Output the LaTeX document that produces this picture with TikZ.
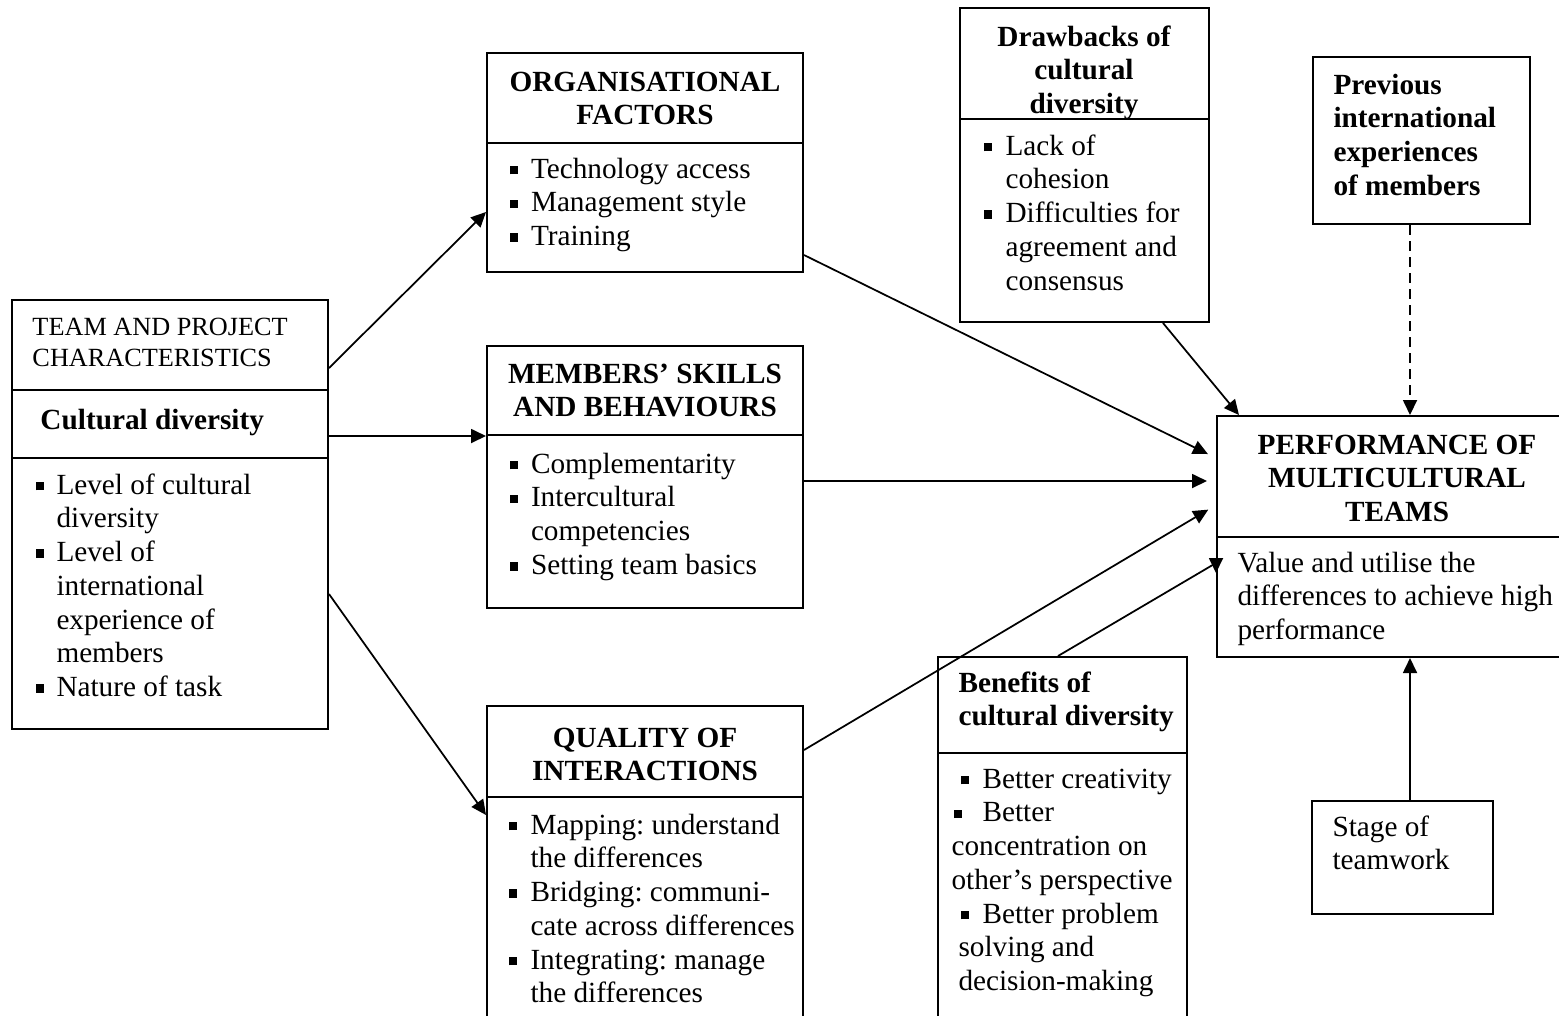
\documentclass[tikz,border=0pt]{standalone}
\usepackage{fontspec}
\setmainfont{Liberation Serif}
\usetikzlibrary{arrows.meta,fit,calc}
% small filled square used as list bullet
\newcommand{\sqbullet}{\raisebox{1.5pt}{\rule{3.4pt}{3.4pt}}}
\newcommand{\bitem}{\sqbullet &}

\begin{document}
\begin{tikzpicture}[x=0.4pt,y=-0.4pt,
  box/.style={draw, line width=0.8pt, rectangle, inner sep=0pt},
  divider/.style={line width=0.8pt},
  body/.style={inner sep=0pt, font=\fontsize{11.7}{13.5}\selectfont\frenchspacing},
  head/.style={inner sep=0pt, font=\fontsize{11.7}{13.5}\selectfont\bfseries\frenchspacing},
  small/.style={inner sep=0pt, font=\fontsize{10.5}{12.4}\selectfont},
  link/.style={line width=0.7pt, -{Triangle[length=6pt,width=5.6pt]}},
  hint/.style={link, dash pattern=on 4pt off 2.4pt},
]
\useasboundingbox (0,0) rectangle (1559,1015);
\clip (0,0) rectangle (1559,1015);

% ---------- boxes ----------
\node[box, fit={(12,300) (328,729)}] (team) {};
\node[box, fit={(487,53) (803,272)}] (org) {};
\node[box, fit={(487,346) (803,608)}] (mem) {};
\node[box, fit={(487,706) (803,1040)}] (qual) {};
\node[box, fit={(960,8) (1209,322)}] (drw) {};
\node[box, fit={(1313,57) (1530,224)}] (prev) {};
\node[box, fit={(1217,416) (1577,657)}] (perf) {};
\node[box, fit={(938,657) (1187,1040)}] (ben) {};
\node[box, fit={(1312,801) (1493,914)}] (stage) {};

% ---------- dividers ----------
\draw[divider] (team.west |- 0,390) -- (team.east |- 0,390);
\draw[divider] (team.west |- 0,458) -- (team.east |- 0,458);
\draw[divider] (org.west |- 0,143) -- (org.east |- 0,143);
\draw[divider] (mem.west |- 0,435) -- (mem.east |- 0,435);
\draw[divider] (qual.west |- 0,797) -- (qual.east |- 0,797);
\draw[divider] (drw.west |- 0,119) -- (drw.east |- 0,119);
\draw[divider] (perf.west |- 0,537) -- (perf.east |- 0,537);
\draw[divider] (ben.west |- 0,753) -- (ben.east |- 0,753);

% ---------- team and project characteristics ----------
\node[small, anchor=base west] (teamhead) at (32,335)
  {\begin{tabular}[t]{@{}l@{}}TEAM AND PROJECT\\CHARACTERISTICS\end{tabular}};
\node[head, anchor=base west] (cultdiv) at (40,429) {Cultural diversity};
\node[body, anchor=base west] (teamlist) at (35,494)
  {\begin{tabular}[t]{@{}l@{\hspace{5.0pt}}l@{}}
   \bitem Level of cultural\\
          & diversity\\
   \bitem Level of\\
          & international\\
          & experience of\\
          & members\\
   \bitem Nature of task
   \end{tabular}};

% ---------- organisational factors ----------
\node[head, anchor=base] (orghead) at (645,91)
  {\begin{tabular}[t]{@{}c@{}}ORGANISATIONAL\\FACTORS\end{tabular}};
\node[body, anchor=base west] (orglist) at (509,178)
  {\begin{tabular}[t]{@{}l@{\hspace{5.2pt}}l@{}}
   \bitem Technology access\\
   \bitem Management style\\
   \bitem Training
   \end{tabular}};

% ---------- members' skills ----------
\node[head, anchor=base] (memhead) at (645,383)
  {\begin{tabular}[t]{@{}c@{}}MEMBERS’ SKILLS\\AND BEHAVIOURS\end{tabular}};
\node[body, anchor=base west] (memlist) at (509,473)
  {\begin{tabular}[t]{@{}l@{\hspace{5.2pt}}l@{}}
   \bitem Complementarity\\
   \bitem Intercultural\\
          & competencies\\
   \bitem Setting team basics
   \end{tabular}};

% ---------- quality of interactions ----------
\node[head, anchor=base] (qualhead) at (645,747)
  {\begin{tabular}[t]{@{}c@{}}QUALITY OF\\INTERACTIONS\end{tabular}};
\node[body, anchor=base west] (quallist) at (508,834)
  {\begin{tabular}[t]{@{}l@{\hspace{5.4pt}}l@{}}
   \bitem Mapping: understand\\
          & the differences\\
   \bitem Bridging: communi-\\
          & cate across differences\\
   \bitem Integrating: manage\\
          & the differences
   \end{tabular}};

% ---------- drawbacks ----------
\node[head, anchor=base] (drwhead) at (1084,46)
  {\begin{tabular}[t]{@{}c@{}}Drawbacks of\\cultural\\diversity\end{tabular}};
\node[body, anchor=base west] (drwlist) at (983,155)
  {\begin{tabular}[t]{@{}l@{\hspace{5.4pt}}l@{}}
   \bitem Lack of\\
          & cohesion\\
   \bitem Difficulties for\\
          & agreement and\\
          & consensus
   \end{tabular}};

% ---------- previous experiences ----------
\node[head, anchor=base west] (prevtext) at (1333,94)
  {\begin{tabular}[t]{@{}l@{}}Previous\\international\\experiences\\of members\end{tabular}};

% ---------- performance ----------
\node[head, anchor=base] (perfhead) at (1397,454)
  {\begin{tabular}[t]{@{}c@{}}PERFORMANCE OF\\MULTICULTURAL\\TEAMS\end{tabular}};
\node[body, anchor=base west] (perftext) at (1237,572)
  {\begin{tabular}[t]{@{}l@{}}Value and utilise the\\differences to achieve high\\performance\end{tabular}};

% ---------- benefits ----------
\node[head, anchor=base west] (benhead) at (958,692)
  {\begin{tabular}[t]{@{}l@{}}Benefits of\\cultural diversity\end{tabular}};
\node[body, anchor=base west] (benlist) at (951,788)
  {\begin{tabular}[t]{@{}l@{}}
   \hspace*{3.6pt}\makebox[8.8pt][l]{\sqbullet}Better creativity\\
   \hspace*{0.8pt}\makebox[11.6pt][l]{\sqbullet}Better\\
   concentration on\\
   other’s perspective\\
   \hspace*{3.6pt}\makebox[8.8pt][l]{\sqbullet}Better problem\\
   \hspace*{2.8pt}solving and\\
   \hspace*{2.8pt}decision-making
   \end{tabular}};

% ---------- stage of teamwork ----------
\node[body, anchor=base west] (stagetext) at (1332,836)
  {\begin{tabular}[t]{@{}l@{}}Stage of\\teamwork\end{tabular}};

% ---------- connectors ----------
\coordinate (col) at (1410,0);
\draw[link] (team.east |- 0,368) -- (org.west |- 0,212);
\draw[link] (team.east |- 0,436) -- (mem.west |- 0,436);
\draw[link] (team.east |- 0,594) -- (qual.west |- 0,815);

\draw[link, shorten >=3.6pt] (org.east |- 0,255) -- (perf.west |- 0,458);
\draw[link, shorten >=3.6pt] (mem.east |- 0,481) -- (perf.west |- 0,481);
\draw[link, shorten >=3.6pt] (qual.east |- 0,750) -- (perf.west |- 0,505);
\draw[link] ($(ben.north west)+(121,0)$) -- (perf.west |- 0,563) -- (perf.west |- 0,573);
\draw[link] ($(drw.south west)+(204,0)$) -- ($(perf.north west)+(23,0)$);
\draw[hint] (prev.south -| col) -- (perf.north -| col);
\draw[link] (stage.north -| col) -- (perf.south -| col);
\end{tikzpicture}
\end{document}
